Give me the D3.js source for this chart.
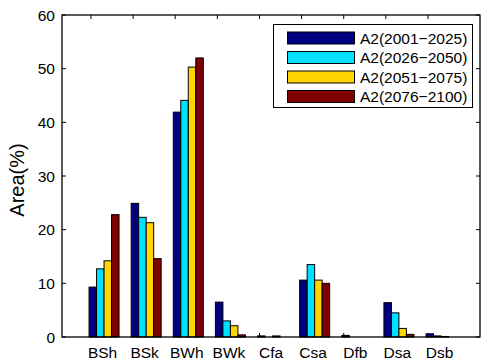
<!DOCTYPE html>
<html lang="en">
<head>
    <meta charset="UTF-8">
    <title>Area by climate class</title>
    <script src="https://cdn.jsdelivr.net/npm/d3@7"></script>
    <style>
        body { margin: 0; background: #fff; }
        text { font-family: "Liberation Sans", Arial, sans-serif; fill: #000; }
    </style>
</head>
<body>
<div id="chart"></div>
<script>
    // data
    const categories = ["BSh", "BSk", "BWh", "BWk", "Cfa", "Csa", "Dfb", "Dsa", "Dsb"];
    const seriesNames = ["A2(2001\u22122025)", "A2(2026\u22122050)", "A2(2051\u22122075)", "A2(2076\u22122100)"];
    const s2001 = [9.3, 24.9, 41.9, 6.5, 0.2, 10.6, 0.3, 6.4, 0.6];
    const s2026 = [12.7, 22.3, 44.1, 3.0, 0.0, 13.5, 0.0, 4.5, 0.2];
    const s2051 = [14.2, 21.3, 50.3, 2.1, 0.2, 10.6, 0.0, 1.6, 0.1];
    const s2076 = [22.8, 14.6, 52.0, 0.4, 0.0, 10.0, 0.0, 0.5, 0.0];
    const yTicks = [0, 10, 20, 30, 40, 50, 60];
    const colors = ["#000080", "#00e1ff", "#ffd400", "#7f0000"];

    const series = [s2001, s2026, s2051, s2076];

    const W = 481, H = 360;
    const plotL = 62, plotR = 480, plotT = 15, plotB = 337;

    const svg = d3.select("#chart").append("svg")
        .attr("width", W).attr("height", H);

    const x = d3.scaleLinear().domain([0.312, 10.235]).range([plotL, plotR]);
    const y = d3.scaleLinear().domain([0, 60]).range([plotB, plotT]);

    const BAR_OFFSET = 0.31;   // groups sit a bit right of the tick marks
    const GROUP_W = 0.712;
    const barW = GROUP_W / series.length;

    // tick marks (drawn under the bars)
    const tickG = svg.append("g");
    categories.forEach(function (c, i) {
        const tx = x(i + 1);
        tickG.append("line").attr("x1", tx).attr("x2", tx).attr("y1", plotB).attr("y2", plotB - 4)
            .attr("stroke", "#000");
        tickG.append("line").attr("x1", tx).attr("x2", tx).attr("y1", plotT).attr("y2", plotT + 4)
            .attr("stroke", "#000");
    });
    yTicks.forEach(function (t) {
        tickG.append("line").attr("x1", plotL).attr("x2", plotL + 4).attr("y1", y(t)).attr("y2", y(t))
            .attr("stroke", "#000");
        tickG.append("line").attr("x1", plotR).attr("x2", plotR - 4).attr("y1", y(t)).attr("y2", y(t))
            .attr("stroke", "#000");
    });

    // bars
    series.forEach(function (vals, s) {
        svg.append("g").selectAll("rect").data(vals).enter()
            .append("rect")
            .attr("x", function (d, i) { return x(i + 1 + BAR_OFFSET - GROUP_W / 2 + s * barW); })
            .attr("width", x(barW) - x(0))
            .attr("y", function (d) { return y(d); })
            .attr("height", function (d) { return y(0) - y(d); })
            .attr("fill", colors[s])
            .attr("stroke", "#000")
            .attr("stroke-width", 1);
    });

    // axes box
    svg.append("rect")
        .attr("x", plotL).attr("y", plotT)
        .attr("width", plotR - plotL).attr("height", plotB - plotT)
        .attr("fill", "none").attr("stroke", "#000").attr("stroke-width", 1.3);

    // y tick labels
    svg.append("g").selectAll("text").data(yTicks).enter()
        .append("text")
        .attr("x", 55).attr("y", function (d) { return y(d); })
        .attr("dy", "0.36em")
        .attr("text-anchor", "end")
        .style("font-size", "15.5px")
        .text(function (d) { return d; });

    // x tick labels
    svg.append("g").selectAll("text").data(categories).enter()
        .append("text")
        .attr("x", function (d, i) { return x(i + 1 + BAR_OFFSET) - 1.5; })
        .attr("y", 358)
        .attr("text-anchor", "middle")
        .style("font-size", "15.5px")
        .text(function (d) { return d; });

    // y label
    svg.append("text")
        .attr("transform", "translate(24," + ((plotT + plotB) / 2 + 4) + ") rotate(-90)")
        .attr("text-anchor", "middle")
        .style("font-size", "20px")
        .text("Area(%)");

    // legend
    const lg = svg.append("g");
    lg.append("rect")
        .attr("x", 273.5).attr("y", 24.5).attr("width", 199).attr("height", 83)
        .attr("fill", "#fff").attr("stroke", "#000").attr("stroke-width", 1);
    seriesNames.forEach(function (name, s) {
        const ry = 32 + s * 19.5;
        lg.append("rect")
            .attr("x", 287.5).attr("y", ry).attr("width", 67).attr("height", 12)
            .attr("fill", colors[s]).attr("stroke", "#000").attr("stroke-width", 1);
        lg.append("text")
            .attr("x", 360).attr("y", ry + 6).attr("dy", "0.36em")
            .style("font-size", "15.5px")
            .text(name);
    });
</script>
</body>
</html>
